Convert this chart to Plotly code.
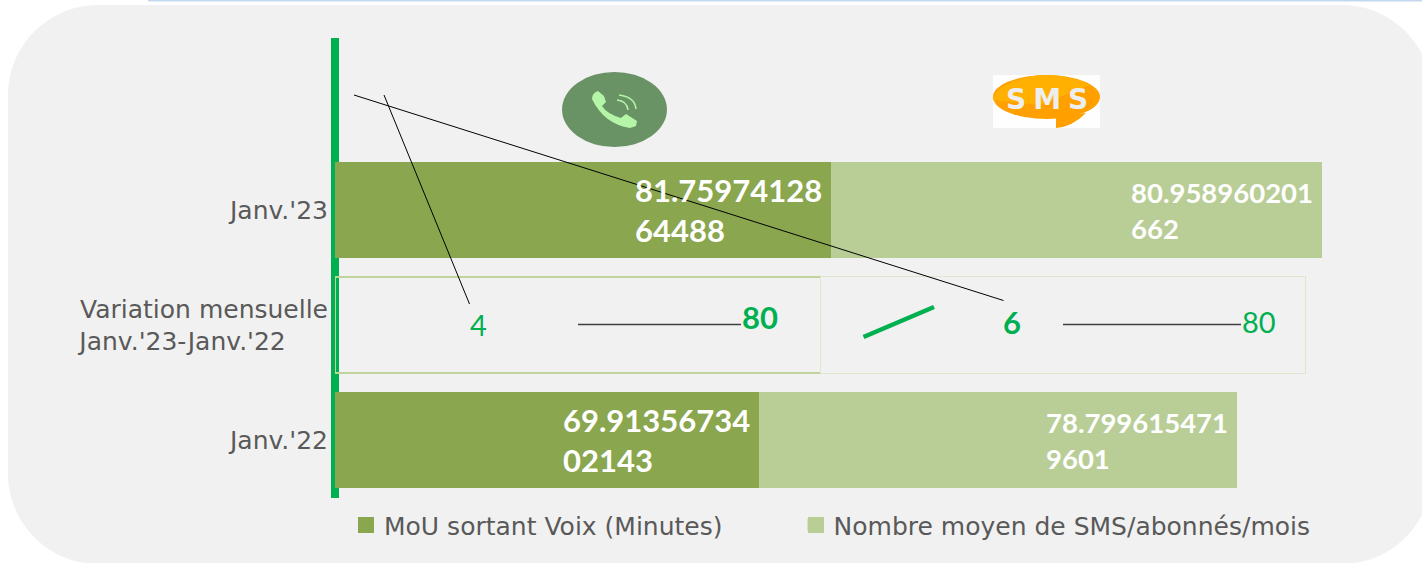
import plotly.graph_objects as go

W, H = 1422, 563
categories = ["Janv.'22", "Variation mensuelle<br>Janv.'23-Janv.'22" + "\u00a0" * 5 + "\u200a", "Janv.'23", " "]
series_names = ["MoU sortant Voix (Minutes)" + "\u00a0" * 8 + "\u200a", "Nombre moyen de SMS/abonnés/mois"]
mou_values = [69.9135673402143, None, 81.7597412864488, None]
sms_values = [78.7996154719601, None, 80.958960201662, None]
var_mou = [None, 80, None, None]
var_sms = [None, 80, None, None]
mou_labels = ["69.91356734<br>02143", "81.75974128<br>64488"]
sms_labels = ["78.799615471<br>9601", "80.958960201<br>662"]

DARK, LIGHT, GREEN, GREY = "#8AA64E", "#B9CE96", "#00B050", "#595959"
FONT = "Lato"


def fx(x):
    return x / W


def fy(y):
    return 1 - y / H


def path(*cmds):
    out = []
    for c in cmds:
        letter, pts = c[0], c[1:]
        out.append(letter + " ".join(f"{fx(pts[i]):.5f},{fy(pts[i + 1]):.5f}" for i in range(0, len(pts), 2)))
    return "".join(out) + "Z"


def line(x0, y0, x1, y1, color="#000000", width=1):
    return dict(type="line", xref="paper", yref="paper", x0=fx(x0), y0=fy(y0), x1=fx(x1), y1=fy(y1),
                line=dict(color=color, width=width), layer="above")


def oval(x0, y0, x1, y1, color):
    return dict(type="circle", xref="paper", yref="paper", x0=fx(x0), y0=fy(y0), x1=fx(x1), y1=fy(y1),
                fillcolor=color, line=dict(width=0), layer="above")


def rect(x0, y0, x1, y1, color, layer="above"):
    return dict(type="rect", xref="paper", yref="paper", x0=fx(x0), y0=fy(y0), x1=fx(x1), y1=fy(y1),
                fillcolor=color, line=dict(width=0), layer=layer)


def filled(d, color, layer="above"):
    return dict(type="path", xref="paper", yref="paper", path=d, fillcolor=color, line=dict(width=0), layer=layer)


L, T, Rt, B, r = 8, 5, 1432, 564, 90
k = r * 0.45
bg = path(("M", L + r, T), ("L", Rt - r, T), ("C", Rt - k, T, Rt, T + k, Rt, T + r),
          ("L", Rt, B - r), ("C", Rt, B - k, Rt - k, B, Rt - r, B),
          ("L", L + r, B), ("C", L + k, B, L, B - k, L, B - r),
          ("L", L, T + r), ("C", L, T + k, L + k, T, L + r, T))

handset = path(("M", 592, 99), ("Q", 592, 93, 598, 91), ("L", 604, 96), ("L", 606, 102), ("L", 602, 106),
               ("Q", 607, 114, 621, 118), ("L", 626, 114), ("L", 637, 121), ("L", 636, 126), ("L", 630, 128),
               ("Q", 604, 124, 592, 99))
bubble_top = path(("M", 993, 100), ("C", 996, 84, 1025, 75, 1046, 75), ("C", 1064, 75, 1082, 80, 1090, 85),
                  ("L", 1040, 105), ("L", 993, 100))
tail = path(("M", 1056, 116), ("L", 1056, 128), ("Q", 1072, 127, 1086, 113), ("L", 1056, 116))

shapes = [
    filled(bg, "#F1F1F1", layer="below"),
    rect(148, 0, 1422, 1.5, "#C3D7EE", layer="below"),
    oval(562, 72, 667, 147, "#699365"),
    filled(handset, "#B4F5A8"),
    dict(type="path", xref="paper", yref="paper", line=dict(color="#B4F5A8", width=1.5), layer="above",
         path=f"M{fx(617)},{fy(100)}Q{fx(627)},{fy(101)} {fx(628)},{fy(110)}"),
    dict(type="path", xref="paper", yref="paper", line=dict(color="#B4F5A8", width=1.5), layer="above",
         path=f"M{fx(619)},{fy(95)}Q{fx(635)},{fy(97)} {fx(636)},{fy(109)}"),
    rect(993, 75, 1100, 128, "#FEFEFE"),
    oval(993, 75, 1100, 119, "#FF9F00"),
    filled(bubble_top, "#FFB000"),
    filled(tail, "#FF9F00"),
    line(354, 95, 1003.5, 300.5),
    line(384, 95, 469.5, 304),
    line(578, 324.5, 741, 324.5, "#404040", 1.5),
    line(1063, 324.5, 1241, 324.5, "#404040", 1.5),
    line(863.5, 337, 934, 307, GREEN, 4.5),
    rect(358, 517, 374, 533, DARK),
    rect(808, 517, 824, 533, LIGHT),
]

fig = go.Figure()
fig.add_bar(name=series_names[0], y=categories, x=mou_values, orientation="h", marker=dict(color=DARK, line=dict(width=0)))
fig.add_bar(name=series_names[1], y=categories, x=sms_values, orientation="h", marker=dict(color=LIGHT, line=dict(width=0)))
fig.add_bar(y=categories, x=var_mou, orientation="h", showlegend=False, hoverinfo="skip",
            marker=dict(color="rgba(0,0,0,0)", line=dict(color="#BFD39A", width=1.5)))
fig.add_bar(y=categories, x=var_sms, orientation="h", showlegend=False, hoverinfo="skip",
            marker=dict(color="rgba(0,0,0,0)", line=dict(color="#DCE7CB", width=1)))

annotations = []
rows = [0, 2]
for i, row in enumerate(rows):
    annotations.append(dict(x=mou_values[row], y=categories[row], xref="x", yref="y", text=f"<b>{mou_labels[i]}</b>",
                            xanchor="right", align="left", xshift=-7, yshift=0, showarrow=False,
                            font=dict(family=FONT, size=31, color="#FFFFFF")))
    annotations.append(dict(x=mou_values[row] + sms_values[row], y=categories[row], xref="x", yref="y",
                            text=f"<b>{sms_labels[i]}</b>", xanchor="right", align="left", xshift=-7, yshift=0,
                            showarrow=False, font=dict(family=FONT, size=27.5, color="#FFFFFF")))

for txt, px, py, bold, size in [("4", 478, 324, False, 29), ("80", 759.5, 317, True, 31),
                                ("6", 1012, 322, True, 31), ("80", 1259, 321, False, 29)]:
    annotations.append(dict(x=fx(px), y=fy(py), xref="paper", yref="paper", text=f"<b>{txt}</b>" if bold else txt,
                            showarrow=False, xanchor="center", yanchor="middle",
                            font=dict(family=FONT, size=size, color=GREEN)))
annotations.append(dict(x=fx(1046.5), y=fy(99), xref="paper", yref="paper", text="<b>S\u2005M\u2005S</b>",
                        showarrow=False, xanchor="center", yanchor="middle",
                        font=dict(family="DejaVu Sans", size=28, color="#EEEEEE")))

fig.update_layout(
    width=W, height=H, autosize=False,
    margin=dict(l=0, r=0, t=0, b=0, pad=0),
    paper_bgcolor="#FFFFFF", plot_bgcolor="rgba(0,0,0,0)",
    barmode="stack", bargap=0.165, showlegend=True,
    shapes=shapes, annotations=annotations,
    font=dict(family="DejaVu Sans", color=GREY),
    legend=dict(orientation="h", x=fx(344), y=fy(525), xanchor="left", yanchor="middle",
                bgcolor="rgba(0,0,0,0)", traceorder="normal",
                font=dict(family="DejaVu Sans", size=25, color=GREY)),
    xaxis=dict(domain=[fx(335), fx(1415)], range=[0, 178], showticklabels=False, ticks="", showgrid=False,
               showline=False, zeroline=True, zerolinecolor=GREEN, zerolinewidth=8, fixedrange=True),
    yaxis=dict(domain=[fy(497.5), fy(37.5)], type="category", categoryorder="array", categoryarray=categories,
               showgrid=False, zeroline=False, showline=False,
               ticks="outside", ticklen=1, tickcolor="rgba(0,0,0,0)", anchor="x", fixedrange=True,
               tickfont=dict(family="DejaVu Sans", size=25, color=GREY)),
)

fig.write_html("out.html", post_script="document.body.style.margin='0';", config=dict(displayModeBar=False))
